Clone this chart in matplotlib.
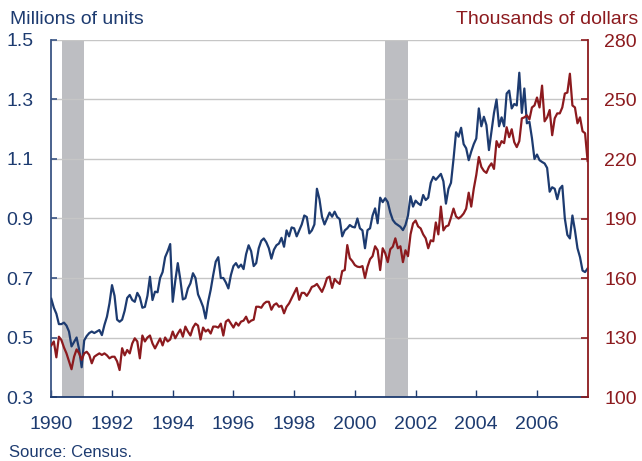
import numpy as np
import matplotlib
matplotlib.use("Agg")
import matplotlib.pyplot as plt

plt.rcParams["font.family"] = ["Liberation Sans", "DejaVu Sans"]

# Monthly series starting January 1990
start_year = 1990

# New single-family home sales, millions of units (annual rate)
sales = [
    0.63, 0.60, 0.58, 0.545, 0.545, 0.55, 0.54, 0.52, 0.47, 0.485, 0.50, 0.46,
    0.40, 0.49, 0.505, 0.515, 0.52, 0.515, 0.52, 0.525, 0.508, 0.542, 0.57, 0.615,
    0.676, 0.64, 0.56, 0.553, 0.56, 0.59, 0.633, 0.643, 0.626, 0.62, 0.65, 0.635,
    0.60, 0.603, 0.64, 0.704, 0.626, 0.654, 0.652, 0.70, 0.72, 0.77, 0.79, 0.814,
    0.62, 0.69, 0.75, 0.695, 0.628, 0.632, 0.665, 0.682, 0.716, 0.70, 0.645, 0.625,
    0.603, 0.564, 0.62, 0.66, 0.71, 0.755, 0.77, 0.70, 0.70, 0.685, 0.665, 0.71,
    0.74, 0.75, 0.735, 0.745, 0.73, 0.78, 0.81, 0.79, 0.74, 0.75, 0.80, 0.825,
    0.833, 0.82, 0.80, 0.765, 0.795, 0.81, 0.816, 0.835, 0.805, 0.86, 0.84, 0.87,
    0.867, 0.84, 0.86, 0.88, 0.91, 0.905, 0.85, 0.86, 0.88, 1.0, 0.965, 0.906,
    0.88, 0.90, 0.92, 0.906, 0.923, 0.905, 0.898, 0.84, 0.86, 0.867, 0.878, 0.872,
    0.87, 0.90, 0.867, 0.86, 0.80, 0.861, 0.867, 0.91, 0.934, 0.884, 0.97, 0.955,
    0.968, 0.955, 0.92, 0.895, 0.884, 0.878, 0.872, 0.861, 0.878, 0.91, 0.975, 0.94,
    0.96, 0.951, 0.945, 0.979, 0.962, 0.97, 1.02, 1.04, 1.03, 1.04, 1.05, 1.025,
    0.95, 1.0, 1.02, 1.10, 1.19, 1.175, 1.205, 1.15, 1.136, 1.096, 1.125, 1.15,
    1.169, 1.27, 1.21, 1.242, 1.214, 1.13, 1.192, 1.255, 1.30, 1.21, 1.24, 1.21,
    1.32, 1.33, 1.27, 1.285, 1.28, 1.39, 1.255, 1.337, 1.22, 1.225, 1.17, 1.10,
    1.115, 1.096, 1.09, 1.085, 1.07, 0.99, 1.005, 1.0, 0.965, 1.0, 1.01, 0.90,
    0.845, 0.833, 0.91, 0.86, 0.80, 0.77, 0.725, 0.72, 0.732,
]

# Median new home price, thousands of dollars
prices = [
    126, 128, 120, 130.4, 128.7, 125, 122, 118, 114, 120.3, 124, 122,
    118.7, 122, 122.8, 121.2, 117, 120.3, 121.2, 122, 121.2, 122, 121, 119.5,
    120.3, 120.3, 118, 113.6, 124.6, 121, 123.7, 122, 127, 129.6, 128, 119.5,
    131, 128, 130, 131, 127, 124.5, 127, 129.5, 126, 130, 128, 129,
    133, 129.6, 132, 134, 130.4, 135.5, 133, 131, 135, 137, 136, 129,
    135, 133, 134, 132, 135.5, 135.5, 135, 137, 131, 138, 139, 137,
    135, 137.5, 136, 138, 138.5, 140.5, 137.5, 138.5, 139, 145.5, 145.5, 145,
    147, 148, 148, 144, 146.4, 147.2, 145.5, 146, 142.2, 145.5, 147.2, 149.8,
    152.5, 155, 149, 152.5, 152.5, 151, 153, 155.5, 156, 157, 155, 153,
    156, 160, 160.7, 155, 159.5, 158, 157, 163.5, 164, 176.6, 170, 168.5,
    166.5, 165.7, 165.5, 166, 160, 165.7, 169.5, 171, 176, 174, 164, 175,
    172.5, 168, 174.5, 175.8, 180, 175, 176, 168, 174, 171, 182, 187.5,
    189, 186, 185, 182, 180, 175, 179, 178.5, 188, 182, 196, 184,
    186, 186.5, 190.5, 195, 191, 190, 191, 192.5, 195, 203, 196, 205,
    212, 221, 216, 214, 213, 216, 217.8, 215, 229, 226, 229, 228,
    236, 231, 235, 228.5, 226, 229, 240.5, 241, 242, 240, 246, 247,
    251, 246, 257, 239, 241, 244.7, 232, 240.5, 243, 243, 246, 253,
    253.5, 263, 247, 246, 238, 241, 234, 233, 219,
]

# Recession periods (decimal years)
recessions = [(1990.34, 1991.09), (2001.0, 2001.74)]

year_ticks = list(range(1990, 2007, 2))
sales_ticks = [0.3, 0.5, 0.7, 0.9, 1.1, 1.3, 1.5]
price_ticks = [100, 130, 160, 190, 220, 250, 280]

BLUE = "#1d3b70"
RED = "#8c1a1e"
GRID = "#c6c6c6"
SHADE = "#bdbec2"

years = start_year + np.arange(len(sales)) / 12.0

fig = plt.figure(figsize=(6.42, 4.61), dpi=100)
ax = fig.add_axes([51.3 / 642, 1 - 397 / 461, (587.6 - 51.3) / 642, 357 / 461])
ax2 = ax.twinx()

for a, b in recessions:
    ax.axvspan(a, b, color=SHADE, lw=0, zorder=0)

ax.plot(years, sales, color=BLUE, lw=1.6, zorder=3)
ax2.plot(years, prices, color=RED, lw=1.6, zorder=3)

ax.set_xlim(years[0], years[-1])
ax.set_ylim(sales_ticks[0], sales_ticks[-1])
ax2.set_ylim(price_ticks[0], price_ticks[-1])

ax.set_yticks(sales_ticks)
ax.set_yticklabels([f"{v:.1f}" for v in sales_ticks])
ax2.set_yticks(price_ticks)
ax2.set_yticklabels([str(v) for v in price_ticks])
ax.set_xticks(year_ticks)
ax.set_xticklabels([str(y) for y in year_ticks])

ax.yaxis.grid(True, color=GRID, lw=1.0, zorder=1)
ax.set_axisbelow(True)

for a in (ax, ax2):
    a.spines["top"].set_visible(False)
ax.spines["right"].set_visible(False)
ax2.spines["left"].set_visible(False)
ax2.spines["bottom"].set_visible(False)
ax.spines["left"].set_color("#3a5585")
ax.spines["bottom"].set_color(BLUE)
ax2.spines["right"].set_color(RED)
for s in (ax.spines["left"], ax.spines["bottom"], ax2.spines["right"]):
    s.set_linewidth(1.3)

ax.tick_params(axis="y", direction="in", length=4, width=1.2, color="#3a5585",
               labelcolor=BLUE, labelsize=14, pad=13)
ax.tick_params(axis="x", direction="in", length=5, width=1.0, color=BLUE,
               labelcolor=BLUE, labelsize=14, pad=14)
ax2.tick_params(axis="y", direction="in", length=5, width=1.2, color=RED,
                labelcolor=RED, labelsize=14, pad=12)

fig.text(10 / 642, 1 - 24 / 461, "Millions of units", color=BLUE, fontsize=14,
         ha="left", va="baseline")
fig.text(638 / 642, 1 - 24 / 461, "Thousands of dollars", color=RED, fontsize=14,
         ha="right", va="baseline")
fig.text(9 / 642, 1 - 457 / 461, "Source: Census.", color=BLUE, fontsize=12,
         ha="left", va="baseline")

fig.savefig("out.png", dpi=100)
